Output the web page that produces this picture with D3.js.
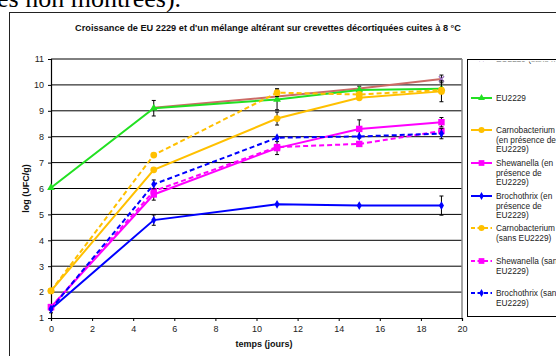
<!DOCTYPE html>
<html>
<head>
<meta charset="utf-8">
<script src="https://cdn.jsdelivr.net/npm/d3@7"></script>
<style>
  body { margin: 0; background: #fff; }
  svg text { font-family: "Liberation Sans", Arial, sans-serif; }
</style>
</head>
<body>
<div id="chart"></div>
<script>
// jours de mesure
const days = [0, 5, 11, 15, 19];
const xTicks = [0, 2, 4, 6, 8, 10, 12, 14, 16, 18, 20];
const yTicks = [1, 2, 3, 4, 5, 6, 7, 8, 9, 10, 11];

// log (UFC/g) par serie
const eu2229Hidden   = [null, 9.12, 9.55, 9.86, 10.23];
const eu2229         = [6.03, 9.1, 9.44, 9.8, 9.85];
const carnoPres      = [2.05, 6.72, 8.7, 9.5, 9.75];
const shewPres       = [1.42, 5.77, 7.56, 8.3, 8.56];
const brochoPres     = [1.35, 4.78, 5.39, 5.34, 5.34];
const carnoSans      = [2.05, 7.29, 9.7, 9.63, 9.8];
const shewSans       = [1.42, 5.9, 7.6, 7.72, 8.22];
const brochoSans     = [1.35, 6.16, 7.96, 8.01, 8.12];

// ecarts-types
const eu2229HiddenErr = [0, 0, 0, 0, 0.15];
const eu2229Err       = [0, 0.3, 0.4, 0.15, 0];
const carnoPresErr    = [0.05, 0, 0.25, 0, 0.4];
const shewPresErr     = [0.05, 0.22, 0.25, 0.35, 0.18];
const brochoPresErr   = [0.15, 0.2, 0, 0, 0.37];
const carnoSansErr    = [0, 0, 0.15, 0, 0];
const shewSansErr     = [0, 0, 0, 0, 0.1];
const brochoSansErr   = [0, 0.17, 0, 0, 0.2];

const labels = [
  ["EU2229 (sans mélange)"],
  ["EU2229"],
  ["Carnobacterium", "(en présence de", "EU2229)"],
  ["Shewanella (en", "présence de", "EU2229)"],
  ["Brochothrix (en", "présence de", "EU2229)"],
  ["Carnobacterium", "(sans EU2229)"],
  ["Shewanella (sans", "EU2229)"],
  ["Brochothrix (sans", "EU2229)"]
];

const series = [
  {vals: eu2229Hidden, err: eu2229HiddenErr, color: "#CC6B66", dash: null, sym: "x", mcol: "#9A6FC0"},
  {vals: eu2229, err: eu2229Err, color: "#22E022", dash: null, sym: "tri"},
  {vals: carnoPres, err: carnoPresErr, color: "#FFC000", dash: null, sym: "circ"},
  {vals: shewPres, err: shewPresErr, color: "#FF00FF", dash: null, sym: "sq"},
  {vals: brochoPres, err: brochoPresErr, color: "#0000FF", dash: null, sym: "dia"},
  {vals: carnoSans, err: carnoSansErr, color: "#FFC000", dash: "5,3", sym: "circ"},
  {vals: shewSans, err: shewSansErr, color: "#FF00FF", dash: "5,3", sym: "sq"},
  {vals: brochoSans, err: brochoSansErr, color: "#0000FF", dash: "5,3", sym: "dia"}
];
const legendY = [59, 98, 130, 163, 196, 228, 261, 293];

const W = 556, H = 356;
const svg = d3.select("#chart").append("svg")
  .attr("width", W).attr("height", H);

// bout de texte du document au-dessus
svg.append("text")
  .attr("x", -3).attr("y", 7)
  .style("font-family", "'Liberation Serif', 'Times New Roman', serif")
  .style("font-size", "26px")
  .text("es non montrées).");

// cadre du graphique
svg.append("rect")
  .attr("x", 9.5).attr("y", 12.5)
  .attr("width", 600).attr("height", 400)
  .attr("fill", "#fff").attr("stroke", "#222");

svg.append("text")
  .attr("x", 268).attr("y", 31)
  .attr("text-anchor", "middle")
  .style("font-size", "9.2px").style("font-weight", "bold")
  .attr("fill", "#111")
  .text("Croissance de EU 2229 et d'un mélange altérant sur crevettes décortiquées cuites à 8 °C");

const x = d3.scaleLinear().domain([0, 20]).range([51, 462]);
const y = d3.scaleLinear().domain([1, 11]).range([318, 59]);

// grille
svg.append("g").selectAll("line").data(yTicks.slice(1)).join("line")
  .attr("x1", x(0)).attr("x2", x(20))
  .attr("y1", d => y(d)).attr("y2", d => y(d))
  .attr("stroke", "#000").attr("stroke-width", 1);

svg.append("line")
  .attr("x1", x(20)).attr("x2", x(20)).attr("y1", y(11)).attr("y2", y(1))
  .attr("stroke", "#888").attr("stroke-width", 1.5);

// axes
const yAxis = svg.append("g")
  .attr("transform", `translate(${x(0)},0)`)
  .call(d3.axisLeft(y).tickValues(yTicks).tickSize(3).tickPadding(4));
const xAxis = svg.append("g")
  .attr("transform", `translate(0,${y(1)})`)
  .call(d3.axisBottom(x).tickValues(xTicks).tickSize(3).tickPadding(5));
[xAxis, yAxis].forEach(a => {
  a.select(".domain").attr("stroke", "#000").attr("stroke-width", 1.2);
  a.selectAll(".tick line").attr("stroke", "#000");
  a.selectAll("text").style("font-size", "9px").style("font-family", "'Liberation Sans', Arial, sans-serif").attr("fill", "#222");
});

svg.append("text")
  .attr("transform", `translate(29,${(y(1) + y(11)) / 2}) rotate(-90)`)
  .attr("text-anchor", "middle")
  .style("font-size", "9px").style("font-weight", "bold")
  .attr("fill", "#111")
  .text("log (UFC/g)");
svg.append("text")
  .attr("x", 264).attr("y", 347)
  .attr("text-anchor", "middle")
  .style("font-size", "9px").style("font-weight", "bold")
  .attr("fill", "#111")
  .text("temps (jours)");

function marker(g, s, cx, cy, k) {
  const col = s.mcol || s.color;
  if (s.sym === "tri") {
    g.append("path").attr("d", d3.symbol(d3.symbolTriangle, 26 * k)())
      .attr("transform", `translate(${cx},${cy})`).attr("fill", col);
  } else if (s.sym === "circ") {
    g.append("circle").attr("cx", cx).attr("cy", cy).attr("r", 3.4 * Math.sqrt(k)).attr("fill", col);
  } else if (s.sym === "sq") {
    const a = 6.4 * Math.sqrt(k);
    g.append("rect").attr("x", cx - a / 2).attr("y", cy - a / 2).attr("width", a).attr("height", a).attr("fill", col);
  } else if (s.sym === "dia") {
    g.append("path").attr("d", d3.symbol(d3.symbolDiamond, 22 * k)())
      .attr("transform", `translate(${cx},${cy})`).attr("fill", col);
  } else if (s.sym === "x") {
    g.append("path").attr("d", d3.symbol(d3.symbolX, 20 * k)())
      .attr("transform", `translate(${cx},${cy})`).attr("fill", "none")
      .attr("stroke", col).attr("stroke-width", 1.3);
  }
}

const line = d3.line()
  .defined(d => d[1] != null)
  .x(d => x(d[0])).y(d => y(d[1]));

const plot = svg.append("g");
series.forEach(s => {
  const pts = days.map((d, i) => [d, s.vals[i], s.err[i]]);
  const g = plot.append("g");
  g.append("path").datum(pts)
    .attr("d", line)
    .attr("fill", "none")
    .attr("stroke", s.color).attr("stroke-width", 2)
    .attr("stroke-dasharray", s.dash);
  pts.filter(p => p[1] != null).forEach((p, j) => {
    if (p[2] > 0) {
      const cx = x(p[0]);
      g.append("path")
        .attr("d", `M${cx},${y(p[1] + p[2])}V${y(p[1] - p[2])}M${cx - 2},${y(p[1] + p[2])}H${cx + 2}M${cx - 2},${y(p[1] - p[2])}H${cx + 2}`)
        .attr("stroke", "#000").attr("stroke-width", 1).attr("fill", "none");
    }
    // les croix de la serie masquee ne se voient qu'au dernier point
    if (s.sym !== "x" || p[0] === days[days.length - 1]) marker(g, s, x(p[0]), y(p[1]), 1);
  });
});

// legende
svg.append("clipPath").attr("id", "legclip")
  .append("rect").attr("x", 467).attr("y", 61.5).attr("width", 100).attr("height", 255);
svg.append("rect")
  .attr("x", 467.5).attr("y", 59.5).attr("width", 120).attr("height", 257)
  .attr("fill", "#fff").attr("stroke", "#000");
const leg = svg.append("g").attr("clip-path", "url(#legclip)");
series.forEach((s, i) => {
  const ly = legendY[i];
  const g = leg.append("g");
  g.append("line")
    .attr("x1", 471).attr("x2", 492).attr("y1", ly).attr("y2", ly)
    .attr("stroke", s.color).attr("stroke-width", 2)
    .attr("stroke-dasharray", s.dash ? "4,2.5" : null);
  marker(g, s, 481.5, ly, 0.8);
  const t = g.append("text")
    .attr("x", 496).attr("y", ly + 3)
    .style("font-size", "8.3px").attr("fill", "#222");
  labels[i].forEach((l, j) => {
    t.append("tspan").attr("x", 496).attr("dy", j === 0 ? 0 : 9.5).text(l);
  });
});
</script>
</body>
</html>
